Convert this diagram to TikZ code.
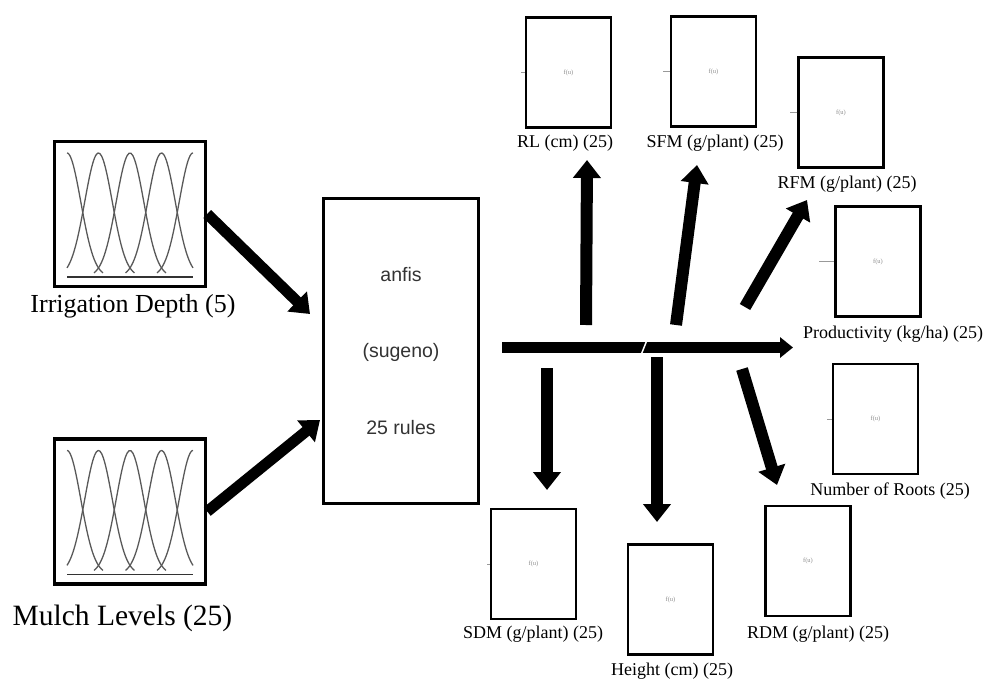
\documentclass[tikz,border=0pt]{standalone}
\usepackage{fontspec}
\setmainfont{Liberation Serif}
\newfontfamily\anfisfont{Liberation Sans}
\usetikzlibrary{arrows.meta}
\tikzset{
	node_in/.style = {
		draw=black,
		line width=3.5pt,
		inner sep=0pt,
		minimum width=151pt,
		minimum height=145pt
	},
	node_anfis/.style = {
		draw=black,
		line width=3pt,
		align=center,
		inner sep=0pt,
		text=black!80,
		font=\anfisfont\fontsize{19.5}{76.5}\selectfont,
		minimum width=155pt,
		minimum height=305pt
	},
	node_out/.style = {
		draw=black,
		line width=2.5pt,
		inner sep=0pt,
		text=black!45,
		font=\fontsize{6.5}{7}\selectfont,
		minimum width=85pt,
		minimum height=110pt
	},
	label_out/.style = {
		anchor=base,
		inner sep=0pt,
		font=\fontsize{18}{20}\selectfont
	},
	label_in/.style = {
		anchor=base,
		inner sep=0pt,
		font=\fontsize{26}{28}\selectfont
	},
	mf_curve/.style = {
		draw=black!65,
		line width=1.3pt
	},
	stub/.style = {
		draw=black!40,
		line width=1pt
	},
	fat_arrow/.style = {
		-{Triangle[width=27pt,length=18pt]},
		line width=12pt
	},
}
\begin{document}
\begin{tikzpicture}[x=1pt, y=-1pt]
\useasboundingbox (0,0) rectangle (987,679);

\node [node_in] (irr) at (130,214) {};
\node [node_in] (mulch) at (130,511.5) {};
\node [label_in] (irr_lab) at (133,312) {Irrigation Depth (5)};
\node [label_in, font=\fontsize{29.5}{31}\selectfont] (mulch_lab) at (122.5,625) {Mulch Levels (25)};
\foreach \cy in {214,511.5} {
	\begin{scope}[shift={(130,\cy)}]
	\foreach \c/\a/\b in {-63/-63/-27, -31.5/-63/4.5, 0/-36/36, 31.5/-4.5/63, 63/27/63}
		\draw [mf_curve] plot [domain=\a:\b, samples=40, smooth] (\x, {63 - 124*exp(-((\x-(\c))^2)/380)});
	\draw [mf_curve, black!80, line width=1.6pt] (-63,63) -- (63,63);
	\end{scope}
}

\node [node_anfis] (anfis) at (401,351) {anfis\\(sugeno)\\25 rules};

\node [node_out] (rl) at (568.5,72.5) {f(u)};
\node [node_out] (sfm) at (713.5,71.5) {f(u)};
\node [node_out] (rfm) at (841,112.5) {f(u)};
\node [node_out] (prod) at (878,261.5) {f(u)};
\node [node_out] (roots) at (875.5,419) {f(u)};
\node [node_out] (sdm) at (533.5,564) {f(u)};
\node [node_out] (height) at (670.5,599.5) {f(u)};
\node [node_out] (rdm) at (808,561) {f(u)};

\node [label_out] (rl_lab) at (565,148) {RL (cm) (25)};
\node [label_out] (sfm_lab) at (715,148) {SFM (g/plant) (25)};
\node [label_out] (rfm_lab) at (847,189) {RFM (g/plant) (25)};
\node [label_out] (prod_lab) at (893,338) {Productivity (kg/ha) (25)};
\node [label_out] (roots_lab) at (890,495) {Number of Roots (25)};
\node [label_out] (sdm_lab) at (533,638) {SDM (g/plant) (25)};
\node [label_out] (height_lab) at (672,675) {Height (cm) (25)};
\node [label_out] (rdm_lab) at (818,638) {RDM (g/plant) (25)};

\draw [stub] (rl.west) -- ++(-4,0);
\draw [stub] (sfm.west) -- ++(-7,0);
\draw [stub] (rfm.west) -- ++(-7,0);
\draw [stub] (prod.west) -- ++(-15,0);
\draw [stub] (roots.west) -- ++(-5,0);
\draw [stub] (sdm.west) -- ++(-3,0);

\coordinate (irr_tip) at ([xshift=-12pt,yshift=37pt]anfis.west);
\coordinate (mulch_tip) at ([xshift=-2pt,yshift=-69pt]anfis.west);
\draw [fat_arrow, line width=11pt] (irr.east) -- (irr_tip);
\draw [fat_arrow, line width=11pt] (mulch.east) -- (mulch_tip);

\coordinate (hub) at (502,347.5);
\coordinate (prod_tip) at (793,347.5);
\coordinate (rl_tail) at (586,325);
\coordinate (rl_tip) at (587,160);
\coordinate (sfm_tail) at (676,325);
\coordinate (sfm_tip) at (697,165);
\coordinate (rfm_tail) at (745,307);
\coordinate (rfm_tip) at (807,200);
\coordinate (sdm_tail) at (547,368);
\coordinate (sdm_tip) at (547,490);
\coordinate (height_tail) at (657,357);
\coordinate (height_tip) at (657,522);
\coordinate (rdm_tail) at (742,369);
\coordinate (rdm_tip) at (777,485);

\draw [fat_arrow, -{Triangle[width=20pt,length=13pt]}, line width=11pt] (hub) -- (prod_tip);
\draw [white, line width=1.5pt] (647,340) -- (641,355);
\draw [fat_arrow] (rl_tail) -- (rl_tip);
\draw [fat_arrow] (sfm_tail) -- (sfm_tip);
\draw [fat_arrow] (rfm_tail) -- (rfm_tip);
\draw [fat_arrow] (sdm_tail) -- (sdm_tip);
\draw [fat_arrow] (height_tail) -- (height_tip);
\draw [fat_arrow] (rdm_tail) -- (rdm_tip);
\end{tikzpicture}
\end{document}
